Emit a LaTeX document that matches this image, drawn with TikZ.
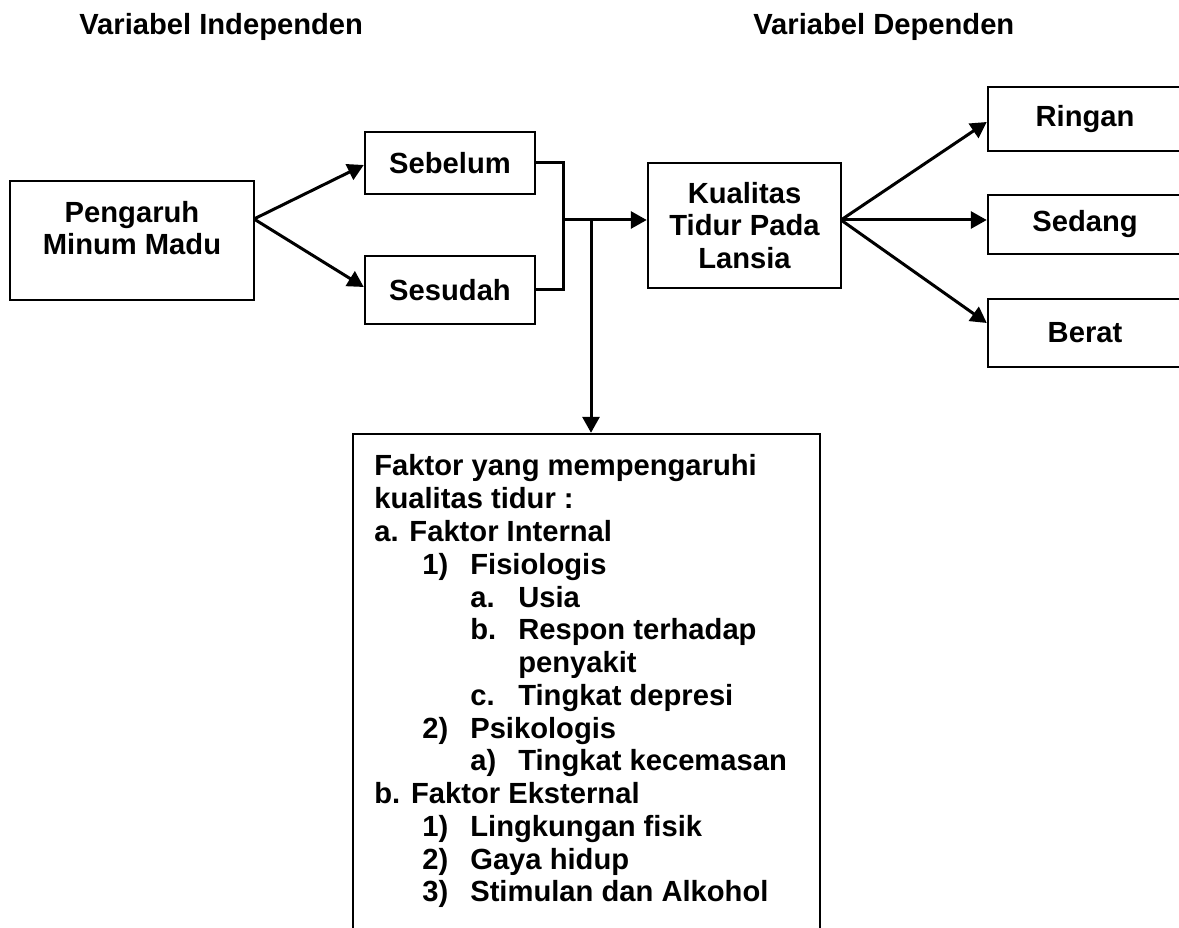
\documentclass[tikz,border=0pt]{standalone}
\usepackage{fontspec}
\setmainfont{Liberation Sans}
\usetikzlibrary{positioning,arrows.meta}

\tikzset{
	kotak/.style={draw,line width=0.05cm,align=center,inner sep=0pt},
	panah/.style={line width=0.06cm,-{Triangle[length=0.32cm,width=0.34cm]}},
	garis/.style={line width=0.06cm},
}
\newcommand{\butir}[3]{\hspace*{#1}\makebox[0.96cm][l]{#2}#3}

\begin{document}
\begin{tikzpicture}[x=0.02cm,y=-0.02cm,font=\fontsize{16.6}{18.65}\selectfont\bfseries]
		\useasboundingbox[fill=white] (0,0) rectangle (1179,928);
		\node[anchor=base west,inner sep=0pt] (judulind) at (79,35) {Variabel Independen};
		\node[anchor=base west,inner sep=0pt] (juduldep) at (753,35) {Variabel Dependen};
		\node[kotak,minimum width=4.88cm,minimum height=2.38cm,
			label={[align=center,yshift=0.25cm]center:Pengaruh\\Minum Madu}] (pengaruh) at (132,240.5) {};
		\node[kotak,minimum width=3.4cm,minimum height=1.24cm] (sebelum) at (450,163) {Sebelum};
		\node[kotak,minimum width=3.4cm,minimum height=1.36cm] (sesudah) at (450,290) {Sesudah};
		\node[kotak,minimum width=3.86cm,minimum height=2.5cm] (kualitas) at (744.5,225.5) {Kualitas\\Tidur Pada\\Lansia};
		\node[kotak,minimum width=3.88cm,minimum height=1.28cm] (ringan) at (1085,119) {Ringan};
		\node[kotak,minimum width=3.88cm,minimum height=1.18cm] (sedang) at (1085,224.5) {Sedang};
		\node[kotak,minimum width=3.88cm,minimum height=1.36cm] (berat) at (1085,333) {Berat};
		\node[kotak,minimum width=9.34cm,minimum height=10.12cm] (faktorbox) at (586.5,687) {};
		\node[anchor=north west,align=left,inner sep=0pt] (faktor) at (374,454.5) {%
			Faktor yang mempengaruhi\\
			kualitas tidur :\\
			a. Faktor Internal\\
			\butir{0.96cm}{1)}{Fisiologis}\\
			\butir{1.92cm}{a.}{Usia}\\
			\butir{1.92cm}{b.}{Respon terhadap}\\
			\hspace*{2.88cm}penyakit\\
			\butir{1.92cm}{c.}{Tingkat depresi}\\
			\butir{0.96cm}{2)}{Psikologis}\\
			\butir{1.92cm}{a)}{Tingkat kecemasan}\\
			b. Faktor Eksternal\\
			\butir{0.96cm}{1)}{Lingkungan fisik}\\
			\butir{0.96cm}{2)}{Gaya hidup}\\
			\butir{0.96cm}{3)}{Stimulan dan Alkohol}};
		% titik cabang
		\coordinate (pout) at (254,219);
		\coordinate (jx) at (563,220);
		\coordinate (jy) at (591,220);
		\coordinate (kout) at (841,220);
		\draw[panah] (pout) -- ([yshift=-0.04cm]sebelum.west);
		\draw[panah] (pout) -- ([yshift=0.06cm]sesudah.west);
		\draw[garis] (sebelum.east) -- (jx |- sebelum.east) -- (jx |- sesudah.east) -- (sesudah.east);
		\draw[panah] (jx) -- (kualitas.west |- jx);
		\draw[panah] (jy) -- (jy |- faktorbox.north);
		\draw[panah] (kout) -- ([yshift=-0.06cm]ringan.west);
		\draw[panah] (kout) -- (sedang.west |- kout);
		\draw[panah] (kout) -- ([yshift=0.2cm]berat.west);
	\end{tikzpicture}
\end{document}
